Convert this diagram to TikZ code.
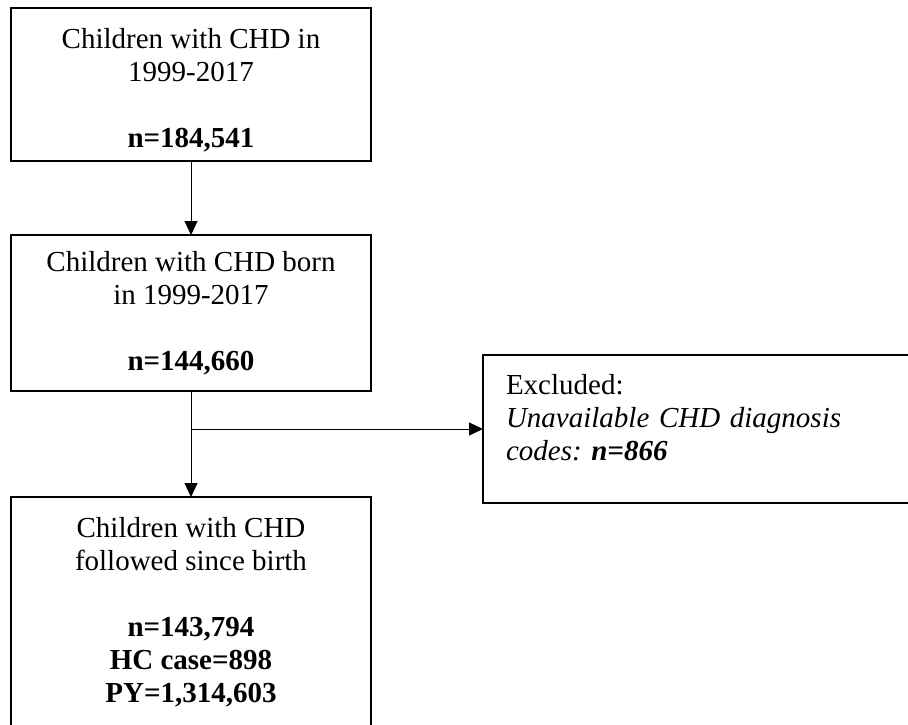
\documentclass[tikz,border=0pt]{standalone}
\usepackage{fontspec}
\setmainfont{Liberation Serif}
\usetikzlibrary{arrows.meta,positioning}
\frenchspacing

\begin{document}
\begin{tikzpicture}[->,>={Triangle[width=13pt,length=14pt]},x=1pt,y=-1pt,
					line width=1pt,node distance=74pt,
					box/.style={rectangle,draw,line width=2.9pt,outer sep=0pt,minimum width=360pt,align=center,font=\fontsize{29pt}{33pt}\selectfont},
					excl box/.style={rectangle,draw,line width=2.9pt,outer sep=0pt,minimum height=148pt,text width=383pt,inner xsep=23pt,align=left,font=\fontsize{29pt}{33pt}\selectfont}]

				\useasboundingbox (0,0) rectangle (908,724);

				\node[box,minimum height=153pt] (b1) at (191,84.5) {\rule{0pt}{31pt}Children with CHD in\\1999-2017\\[33pt]\textbf{n=184,541}};
				\node[box,minimum height=156pt] (b2) [below=of b1] {Children with CHD born\\in 1999-2017\\[33pt]\textbf{n=144,660}};
				\node[box,minimum height=230pt] (b4) [below=106pt of b2] {Children with CHD\\followed since birth\\[33pt]\textbf{n=143,794}\\\textbf{HC case=898}\\\textbf{PY=1,314,603}};
				\node[excl box] (excl) at (697.5,429) {Excluded:\\\textit{Unavailable CHD diagnosis}\\\textit{codes: \textbf{n=866}}\rule[-24pt]{0pt}{0pt}};

				\coordinate (split) at (b2.south |- excl.west);

				\path[]
				(b1) edge (b2)
				(b2) edge (b4)
				(split) edge (excl);
			\end{tikzpicture}
\end{document}
